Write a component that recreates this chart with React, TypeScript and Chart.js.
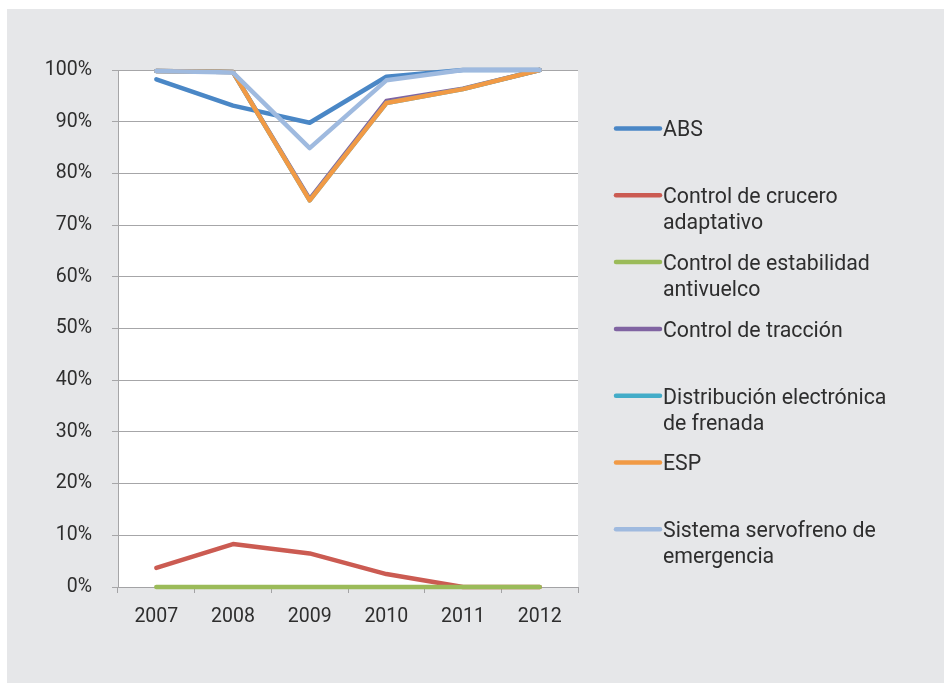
import React, { useEffect, useRef } from "react";
import { Chart, registerables } from "chart.js";

Chart.register(...registerables);

const years = ["2007", "2008", "2009", "2010", "2011", "2012"];
const seriesNames = [
  "ABS",
  "Control de crucero adaptativo",
  "Control de estabilidad antivuelco",
  "Control de tracción",
  "Distribución electrónica de frenada",
  "ESP",
  "Sistema servofreno de emergencia",
];
const absValues = [98.2, 93.1, 89.8, 98.7, 100, 100];
const cruceroValues = [3.7, 8.3, 6.5, 2.5, 0, 0];
const estabilidadValues = [0, 0, 0, 0, 0, 0];
const traccionValues = [99.8, 99.6, 75, 94, 96.4, 100];
const distribucionValues = [99.8, 99.6, 74.8, 93.6, 96.3, 100];
const espValues = [99.8, 99.6, 74.8, 93.6, 96.3, 100];
const servofrenoValues = [99.8, 99.5, 84.9, 98.0, 100, 100];
const seriesColors = ["#4a87c6", "#cb5b52", "#9bbb59", "#8064a2", "#43acc8", "#f19a45", "#9fbadf"];
const yTicks = [0, 10, 20, 30, 40, 50, 60, 70, 80, 90, 100];

const TEXT = "#2e2e2e";
const FONT = "Roboto";

const legendPlugin = {
  id: "sideLegend",
  afterDraw(chart: any) {
    const ctx = chart.ctx;
    const x0 = 609;
    const x1 = 653;
    const tx = 656;
    const startY = 119.5;
    const step = 66.8;
    const maxW = 236;
    ctx.save();
    ctx.font = `21.3px ${FONT}`;
    ctx.textBaseline = "middle";
    ctx.textAlign = "left";
    chart.data.datasets.forEach((ds: any, i: number) => {
      const y = startY + i * step;
      ctx.strokeStyle = ds.borderColor;
      ctx.lineWidth = 4.5;
      ctx.lineCap = "round";
      ctx.beginPath();
      ctx.moveTo(x0, y);
      ctx.lineTo(x1, y);
      ctx.stroke();
      const words = String(ds.label).split(" ");
      const lines: string[] = [];
      let cur = "";
      words.forEach((w) => {
        const t = cur ? cur + " " + w : w;
        if (cur && ctx.measureText(t).width > maxW) {
          lines.push(cur);
          cur = w;
        } else cur = t;
      });
      if (cur) lines.push(cur);
      ctx.fillStyle = TEXT;
      lines.forEach((l, k) => ctx.fillText(l, tx, y + 2.5 + k * 26));
    });
    ctx.restore();
  },
};

const bgPlugin = {
  id: "plotBg",
  beforeDraw(chart: any) {
    const { ctx, chartArea } = chart;
    ctx.save();
    ctx.fillStyle = "#ffffff";
    ctx.fillRect(chartArea.left, chartArea.top, chartArea.right - chartArea.left, chartArea.bottom - chartArea.top);
    ctx.restore();
  },
};

export default function App() {
  const ref = useRef<HTMLCanvasElement>(null);
  useEffect(() => {
    if (!ref.current) return;
    const values = [absValues, cruceroValues, estabilidadValues, traccionValues, distribucionValues, espValues, servofrenoValues];
    const chart = new Chart(ref.current, {
      type: "line",
      data: {
        labels: years,
        datasets: seriesNames.map((name, i) => ({
          label: name,
          data: values[i],
          borderColor: seriesColors[i],
          backgroundColor: seriesColors[i],
          borderWidth: 4.5,
          pointRadius: 0,
          tension: 0,
          borderCapStyle: "round",
          borderJoinStyle: "round",
          order: seriesNames.length - i,
          clip: false,
        })),
      },
      options: {
        responsive: false,
        animation: false,
        layout: { padding: { top: 61, right: 366, left: 0, bottom: 0 } },
        plugins: { legend: { display: false }, tooltip: { enabled: false } },
        scales: {
          x: {
            type: "category",
            offset: true,
            grid: { display: true, drawOnChartArea: false, drawTicks: true, tickLength: 6, color: "#a3a3a5", offset: true },
            border: { display: true, color: "#a3a3a5", width: 1 },
            ticks: { color: TEXT, font: { family: FONT, size: 19.5 }, padding: 12, maxRotation: 0 },
            afterFit: (s: any) => {
              s.height = 96;
            },
          },
          y: {
            min: 0,
            max: 100,
            afterBuildTicks: (s: any) => {
              s.ticks = yTicks.map((v) => ({ value: v }));
            },
            grid: { color: "#a6a6a8", lineWidth: 1, tickLength: 6, drawTicks: true },
            border: { display: true, color: "#a6a6a8", width: 1 },
            ticks: {
              color: TEXT,
              font: { family: FONT, size: 19.5 },
              padding: 20,
              callback: (v: any) => `${v}%`,
            },
            afterFit: (s: any) => {
              s.width = 111;
            },
          },
        },
      },
      plugins: [bgPlugin, legendPlugin],
    } as any);
    return () => chart.destroy();
  }, []);
  return (
    <div
      style={{
        position: "fixed",
        left: 7,
        top: 9,
        width: 937,
        height: 674,
        background: "#e6e7e9",
      }}
    >
      <canvas ref={ref} width={937} height={674} style={{ display: "block" }} />
    </div>
  );
}
